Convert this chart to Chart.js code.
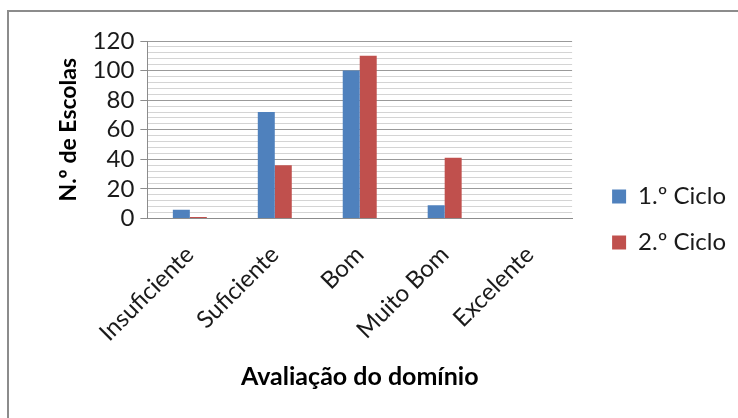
<!DOCTYPE html>
<html>
<head>
<meta charset="utf-8">
<script src="https://cdn.jsdelivr.net/npm/chart.js@4.4.0/dist/chart.umd.min.js"></script>
<style>
html, body { margin: 0; padding: 0; background: #fff; overflow: hidden; }
#wrap { position: relative; width: 738px; height: 418px; overflow: hidden; }
#frame { position: absolute; left: 7px; top: 10px; width: 800px; height: 500px; border: 2px solid #8c8c8c; }
canvas { position: absolute; left: 0; top: 0; }
</style>
</head>
<body>
<div id="wrap">
  <div id="frame"></div>
  <canvas id="chart" width="738" height="418"></canvas>
</div>
<script>
const categories = ["Insuficiente", "Suficiente", "Bom", "Muito Bom", "Excelente"];
const ciclo1 = [6, 72, 100, 9, 0];
const ciclo2 = [1, 36, 110, 41, 0];
const seriesNames = ["1.º Ciclo", "2.º Ciclo"];
const yTicks = [0, 20, 40, 60, 80, 100, 120];

// push the legend a bit away from the plot area
const legendShift = {
    id: "legendShift",
    afterLayout(chart) {
        chart.legend.left += 18;
        chart.legend.right += 18;
        chart.legend.top += 1;
        chart.legend.bottom += 1;
    }
};

const ctx = document.getElementById("chart").getContext("2d");

new Chart(ctx, {
    type: "bar",
    data: {
        labels: categories,
        datasets: [
            { label: seriesNames[0], data: ciclo1, backgroundColor: "#4f81bd" },
            { label: seriesNames[1], data: ciclo2, backgroundColor: "#c0504d" }
        ]
    },
    options: {
        responsive: false,
        animation: false,
        categoryPercentage: 0.4,
        barPercentage: 1.0,
        layout: { padding: { left: 51, top: 41, right: 20, bottom: 22 } },
        plugins: {
            tooltip: { enabled: false },
            legend: {
                position: "right",
                labels: {
                    boxWidth: 14,
                    boxHeight: 14,
                    padding: 22,
                    color: "#1a1a1a",
                    font: { family: "Lato", size: 24 }
                }
            }
        },
        scales: {
            x: {
                grid: { display: false },
                border: { color: "#8c8c8c" },
                ticks: {
                    maxRotation: 45,
                    minRotation: 45,
                    padding: 14,
                    color: "#1a1a1a",
                    font: { family: "Lato", size: 24 }
                },
                title: {
                    display: true,
                    text: "Avaliação do domínio",
                    color: "#000",
                    padding: { top: 12, bottom: 4 },
                    font: { family: "Lato", size: 25, weight: "bold" }
                }
            },
            y: {
                min: 0,
                max: 120,
                grid: {
                    tickLength: 7,
                    color: (c) => (c.tick && yTicks.includes(c.tick.value)) ? "#9a9a9a" : "#d4d4d4",
                    tickColor: (c) => (c.tick && yTicks.includes(c.tick.value)) ? "#8c8c8c" : "rgba(0,0,0,0)"
                },
                border: { color: "#8c8c8c" },
                ticks: {
                    stepSize: 4,
                    autoSkip: false,
                    padding: 6,
                    color: "#1a1a1a",
                    font: { family: "Lato", size: 24 },
                    callback: (v) => yTicks.includes(v) ? v : ""
                },
                title: {
                    display: true,
                    text: "N.º de Escolas",
                    color: "#000",
                    font: { family: "Lato", size: 23, weight: "bold" }
                }
            }
        }
    },
    plugins: [legendShift]
});
</script>
</body>
</html>
